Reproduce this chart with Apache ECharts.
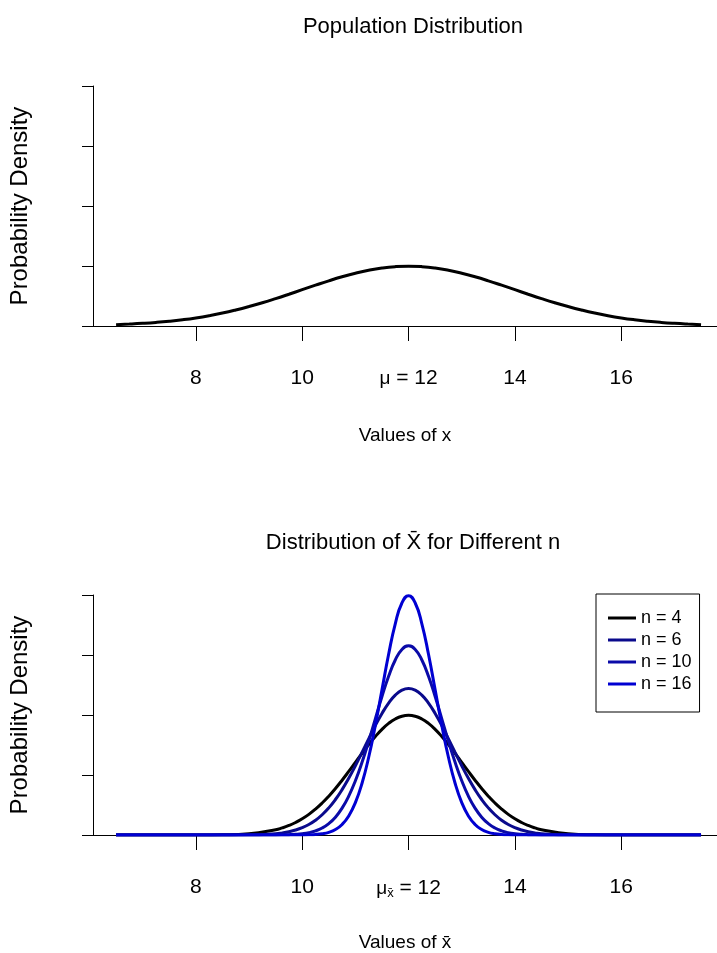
<!DOCTYPE html>
<html>
<head>
<meta charset="utf-8">
<script src="https://cdn.jsdelivr.net/npm/echarts@6/dist/echarts.min.js"></script>
<style>
html,body{margin:0;padding:0;background:#fff;}
#chart{width:717px;height:953px;}
</style>
</head>
<body>
<div id="chart"></div>
<script>
// x values for the population curve
const xs = [6.5,6.75,7,7.25,7.5,7.75,8,8.25,8.5,8.75,9,9.25,9.5,9.75,10,10.25,10.5,10.75,11,11.25,11.5,11.75,12,
            12.25,12.5,12.75,13,13.25,13.5,13.75,14,14.25,14.5,14.75,15,15.25,15.5,15.75,16,16.25,16.5,16.75,17,17.25,17.5];
// population density
const popY = [0.0045,0.0064,0.0088,0.0119,0.0159,0.0209,0.0270,0.0344,0.0431,0.0533,0.0648,0.0775,0.0913,0.1059,0.1210,0.1360,0.1506,0.1641,0.1760,0.1859,0.1933,0.1979,0.1995,
              0.1979,0.1933,0.1859,0.1760,0.1641,0.1506,0.1360,0.1210,0.1059,0.0913,0.0775,0.0648,0.0533,0.0431,0.0344,0.0270,0.0209,0.0159,0.0119,0.0088,0.0064,0.0045];
// x values for the sampling-distribution curves (finer near the centre)
const xsFine = [6.5,7,7.5,8,8.5,9,
  9.5,9.625,9.75,9.875,10,10.125,10.25,10.375,10.5,10.625,10.75,10.875,11,11.125,11.25,11.375,11.5,11.625,11.75,11.875,12,
  12.125,12.25,12.375,12.5,12.625,12.75,12.875,13,13.125,13.25,13.375,13.5,13.625,13.75,13.875,14,14.125,14.25,14.375,14.5,
  15,15.5,16,16.5,17,17.5];
const n4Y = [0,0,0.00002,0.00013,0.00087,0.00443,
  0.01753,0.02377,0.03174,0.04172,0.05399,0.06879,0.08628,0.10654,0.12952,0.15501,0.18265,0.21187,0.24197,0.27206,0.30114,0.32816,0.35207,0.37186,0.38667,0.39584,0.39894,
  0.39584,0.38667,0.37186,0.35207,0.32816,0.30114,0.27206,0.24197,0.21187,0.18265,0.15501,0.12952,0.10654,0.08628,0.06879,0.05399,0.04172,0.03174,0.02377,0.01753,
  0.00443,0.00087,0.00013,0.00002,0,0];
const n6Y = [0,0,0,0,0.00005,0.00057,
  0.00450,0.00711,0.01096,0.01652,0.02433,0.03498,0.04914,0.06743,0.09038,0.11833,0.15135,0.18910,0.23080,0.27515,0.32043,0.36452,0.40507,0.43969,0.46623,0.48291,0.48860,
  0.48291,0.46623,0.43969,0.40507,0.36452,0.32043,0.27515,0.23080,0.18910,0.15135,0.11833,0.09038,0.06743,0.04914,0.03498,0.02433,0.01652,0.01096,0.00711,0.00450,
  0.00057,0.00005,0,0,0,0];
const n10Y = [0,0,0,0,0,0.00001,
  0.00026,0.00055,0.00113,0.00223,0.00425,0.00779,0.01372,0.02325,0.03788,0.05936,0.08948,0.12966,0.18072,0.24223,0.31225,0.38712,0.46149,0.52910,0.58338,0.61858,0.63078,
  0.61858,0.58338,0.52910,0.46149,0.38712,0.31225,0.24223,0.18072,0.12966,0.08948,0.05936,0.03788,0.02325,0.01372,0.00779,0.00425,0.00223,0.00113,0.00055,0.00026,
  0.00001,0,0,0,0,0];
const n16Y = [0,0,0,0,0,0,
  0,0.00001,0.00003,0.00010,0.00027,0.00071,0.00175,0.00406,0.00886,0.01819,0.03506,0.06348,0.10798,0.17255,0.25904,0.36530,0.48394,0.60227,0.70413,0.77334,0.79788,
  0.77334,0.70413,0.60227,0.48394,0.36530,0.25904,0.17255,0.10798,0.06348,0.03506,0.01819,0.00886,0.00406,0.00175,0.00071,0.00027,0.00010,0.00003,0.00001,0,
  0,0,0,0,0,0];
const seriesNames = ['n = 4','n = 6','n = 10','n = 16'];
const seriesColors = ['#000000','#0a0a8c','#0a0aa8','#0000d2'];
const xTicks = [8,10,12,14,16];

const FONT = "'Liberation Sans',Arial,Helvetica,sans-serif";

function pairs(xv, ys){ return xv.map((x,i)=>[x,ys[i]]); }

function xAxisFor(gridIndex, name, bar, gap){
  return {
    type:'value', gridIndex, min:6.066, max:17.80,
    name, nameLocation:'middle', nameGap:gap,
    nameTextStyle:{fontFamily:FONT,fontSize:19,color:'#000'},
    axisLine:{show:true,lineStyle:{color:'#000',width:1}},
    axisTick:{show:true,length:15,customValues:xTicks,lineStyle:{color:'#000',width:1}},
    axisLabel:{show:true,customValues:xTicks,margin:42,color:'#000',fontFamily:FONT,fontSize:21,
      formatter:function(v){
        if (Math.abs(v-12)<1e-9) return bar ? '{mu|μ}{sub|x̄}{t| = 12}' : '{mu|μ}{t| = 12}';
        return String(v);
      },
      rich:{
        mu:{fontFamily:FONT,fontSize:19,color:'#000'},
        sub:{fontFamily:FONT,fontSize:13,color:'#000',verticalAlign:'bottom',padding:[10,0,0,0]},
        t:{fontFamily:FONT,fontSize:21,color:'#000'}
      }
    },
    splitLine:{show:false}
  };
}
function yAxisFor(gridIndex){
  return {
    type:'value', gridIndex, min:0, max:0.8, interval:0.2,
    name:'Probability Density', nameLocation:'middle', nameGap:61, nameRotate:90,
    nameTextStyle:{fontFamily:FONT,fontSize:24,color:'#000'},
    axisLine:{show:true,lineStyle:{color:'#000',width:1}},
    axisTick:{show:true,length:11,lineStyle:{color:'#000',width:1}},
    axisLabel:{show:false},
    splitLine:{show:false}
  };
}

const chart = echarts.init(document.getElementById('chart'), null, {renderer:'canvas'});
const lineBase = {type:'line', showSymbol:false, symbol:'none', smooth:0.5, animation:false};
chart.setOption({
  animation:false,
  backgroundColor:'#fff',
  title:[
    {text:'Population Distribution', left:408, top:11, textAlign:'center',
     textStyle:{fontFamily:FONT,fontSize:22,fontWeight:'normal',color:'#000'}},
    {text:'Distribution of X̄ for Different n', left:408, top:527, textAlign:'center',
     textStyle:{fontFamily:FONT,fontSize:22,fontWeight:'normal',color:'#000'}}
  ],
  grid:[
    {left:92, right:0, top:86, height:240},
    {left:92, right:0, top:595, height:240}
  ],
  xAxis:[xAxisFor(0,'Values of x',false,100), xAxisFor(1,'Values of x̄',true,98)],
  yAxis:[yAxisFor(0), yAxisFor(1)],
  legend:{
    data:seriesNames, orient:'vertical', left:596, top:594,
    itemWidth:28, itemHeight:3, itemGap:0,
    padding:[13,8,17,12],
    borderColor:'#000', borderWidth:1, borderRadius:0,
    textStyle:{fontFamily:FONT,fontSize:18,lineHeight:22,color:'#000'},
    icon:'rect'
  },
  series:[
    Object.assign({}, lineBase, {name:'pop', xAxisIndex:0, yAxisIndex:0, data:pairs(xs,popY),
      lineStyle:{color:'#000',width:3}, itemStyle:{color:'#000'}}),
    Object.assign({}, lineBase, {name:seriesNames[0], xAxisIndex:1, yAxisIndex:1, data:pairs(xsFine,n4Y),
      lineStyle:{color:seriesColors[0],width:3}, itemStyle:{color:seriesColors[0]}}),
    Object.assign({}, lineBase, {name:seriesNames[1], xAxisIndex:1, yAxisIndex:1, data:pairs(xsFine,n6Y),
      lineStyle:{color:seriesColors[1],width:3}, itemStyle:{color:seriesColors[1]}}),
    Object.assign({}, lineBase, {name:seriesNames[2], xAxisIndex:1, yAxisIndex:1, data:pairs(xsFine,n10Y),
      lineStyle:{color:seriesColors[2],width:3}, itemStyle:{color:seriesColors[2]}}),
    Object.assign({}, lineBase, {name:seriesNames[3], xAxisIndex:1, yAxisIndex:1, data:pairs(xsFine,n16Y),
      lineStyle:{color:seriesColors[3],width:3}, itemStyle:{color:seriesColors[3]}})
  ]
});
</script>
</body>
</html>
